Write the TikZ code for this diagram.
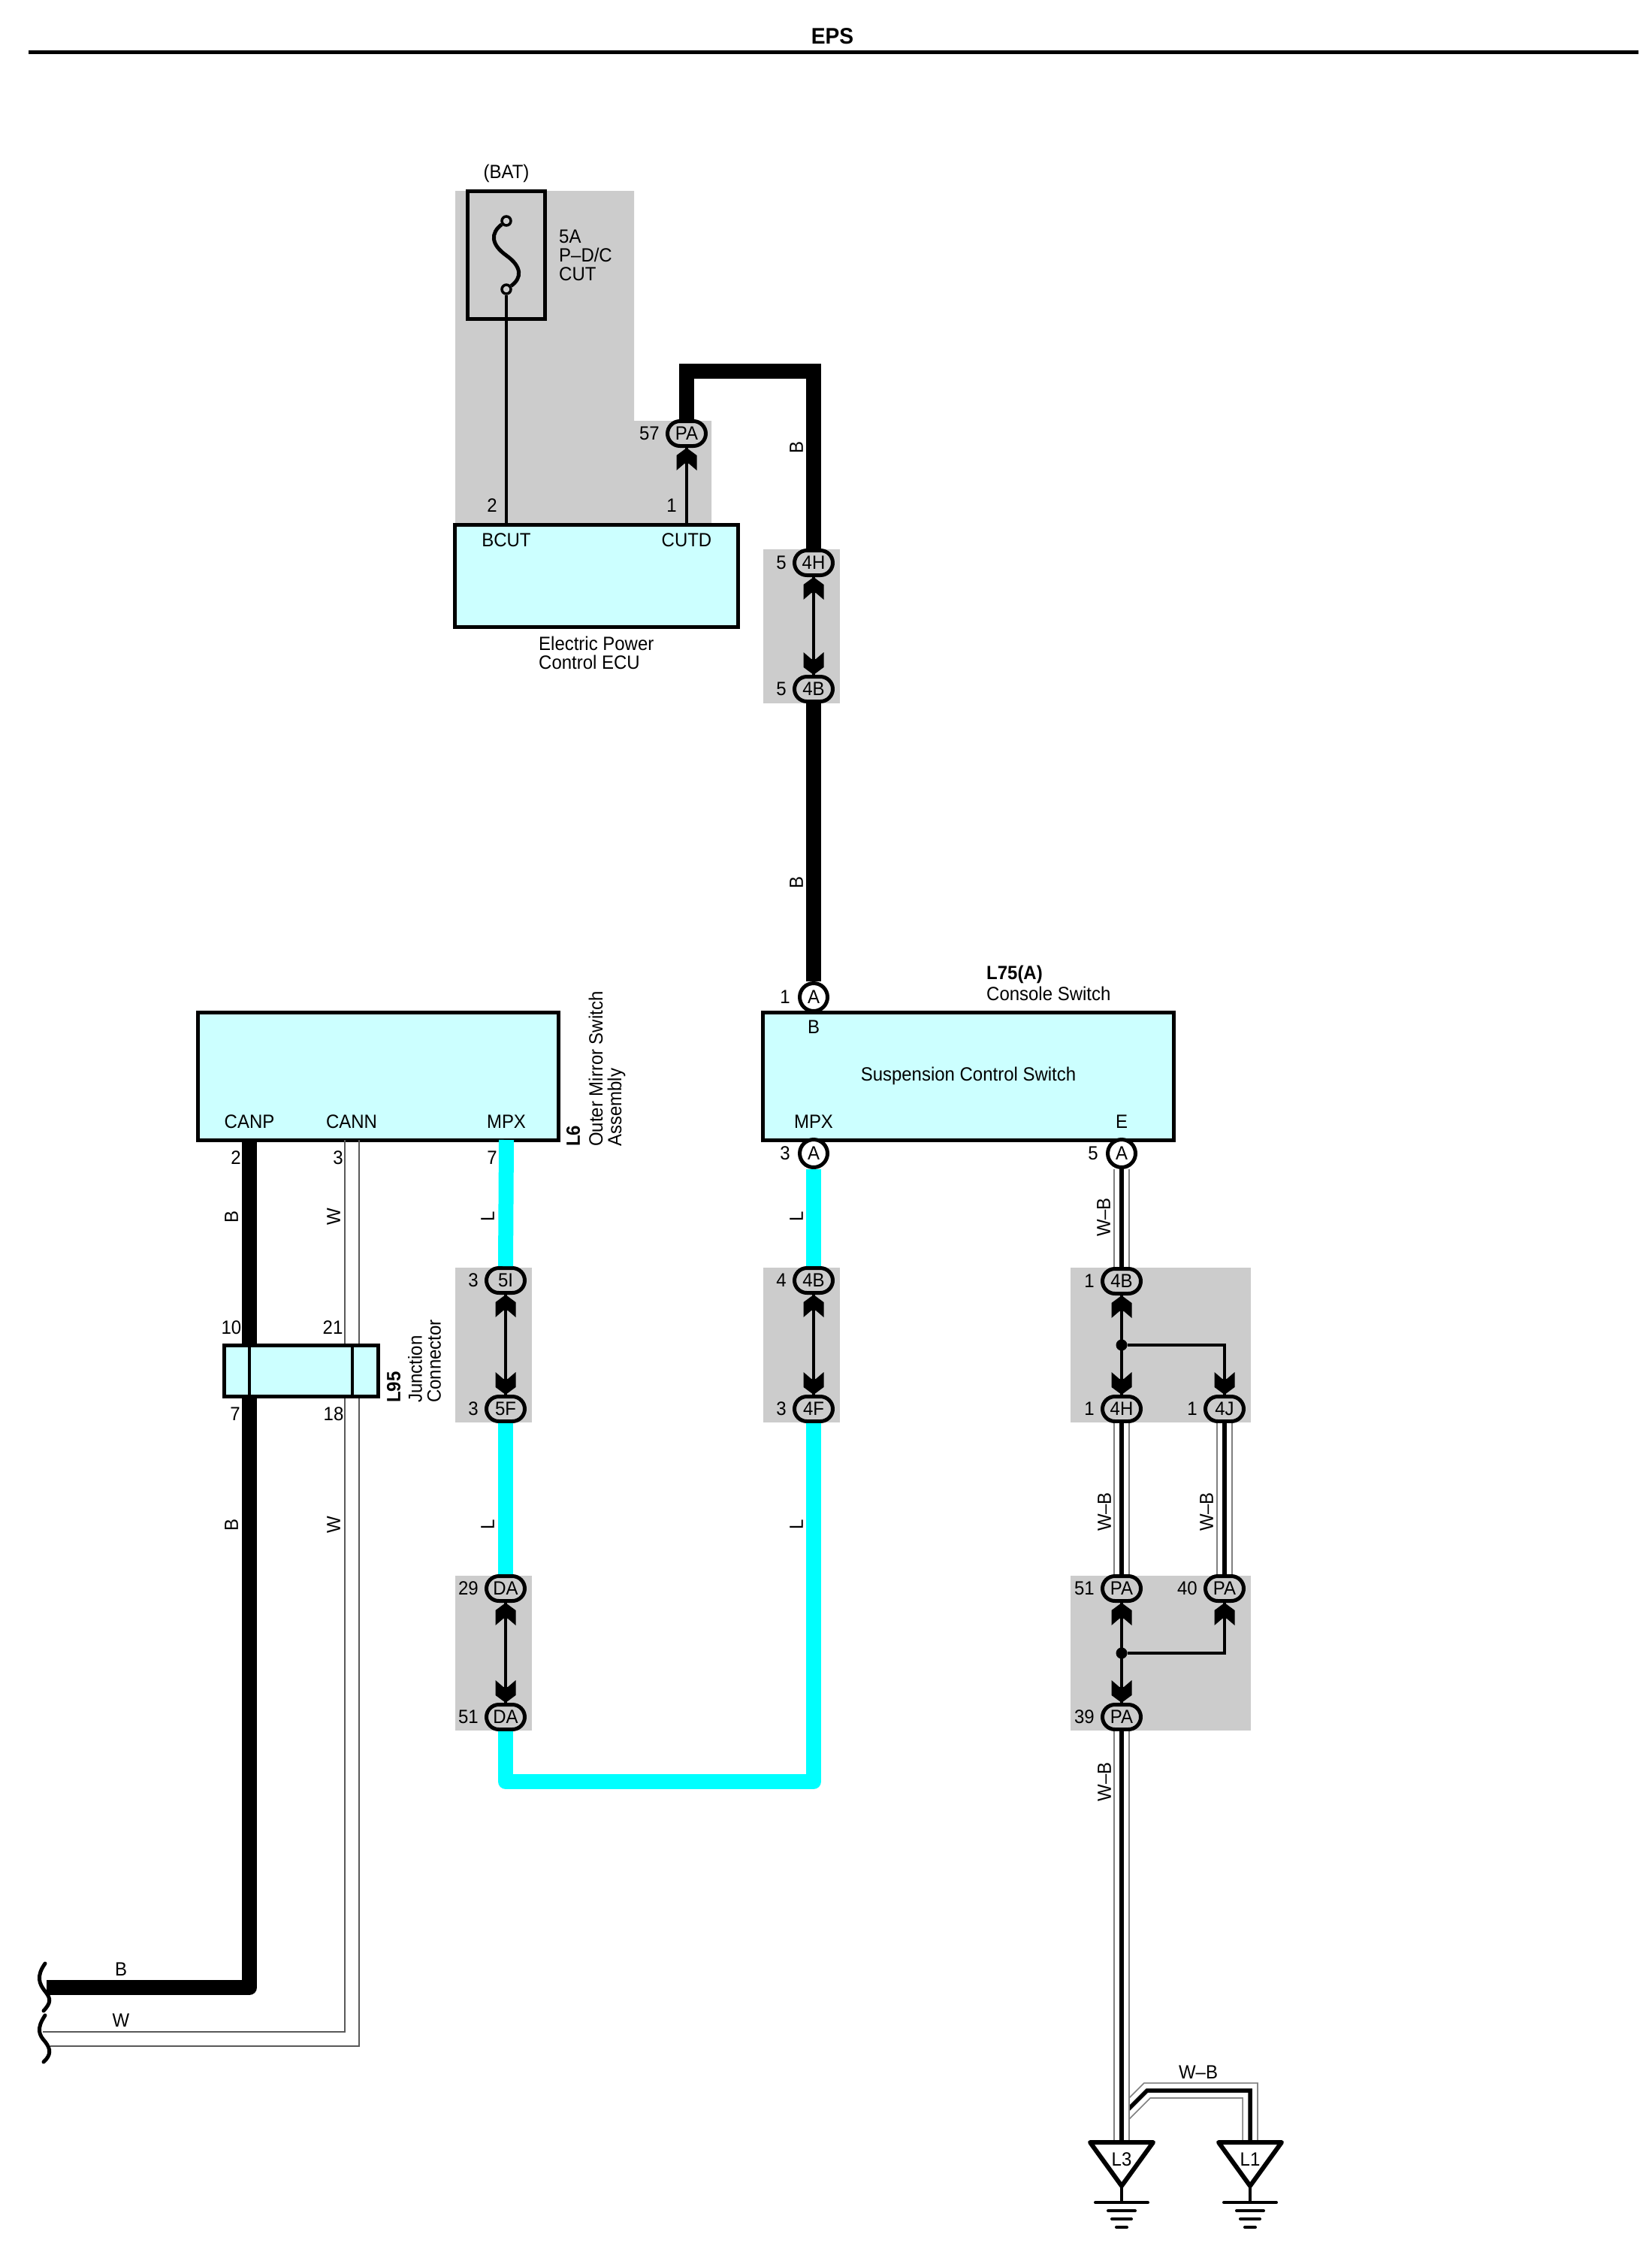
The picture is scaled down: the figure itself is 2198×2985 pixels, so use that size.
\documentclass[tikz,border=0pt]{standalone}
\usepackage{fontspec}
\setmainfont[FakeStretch=0.94]{Liberation Sans}
\usepackage{xcolor}
\usetikzlibrary{positioning}
\definecolor{zonegray}{HTML}{CCCCCC}
\definecolor{ecucyan}{HTML}{CCFFFF}
\definecolor{wirecyan}{HTML}{00FFFF}
\tikzset{
  every node/.style={font=\fontsize{25.5}{25}\selectfont, inner sep=0pt},
  lbl/.style={align=left},
  vlbl/.style={rotate=90, align=left},
  zone/.style={fill=zonegray, draw=none},
  ecubox/.style={draw, line width=5pt, fill=ecucyan, anchor=north west, outer sep=0pt, minimum width=#1},
  conn/.style={draw, line width=5pt, fill=zonegray, rounded corners=16.5pt, minimum width=51pt, minimum height=33pt},
  pinc/.style={draw, line width=5pt, fill=white, circle, minimum size=37pt},
  dotj/.style={fill=black, circle, minimum size=15pt},
  ring/.style={draw, line width=3.5pt, fill=zonegray, circle, minimum size=12pt},
  link/.style={line width=3.5pt},
  wireblk/.style={line width=20pt, line join=round},
  wirecy/.style={line width=20pt, color=wirecyan},
  wirew/.style={draw=black!65, line width=1.5pt},
  wirewb/.style={line width=5.5pt, preaction={draw, black!50, line width=21.5pt}, preaction={draw, white, line width=18pt}},
  gndline/.style={line width=4pt, line cap=round},
  chevup/.pic={\fill (0,0) -- (13.5,10) -- (13.5,30) -- (3,21) -- (-3,21) -- (-13.5,30) -- (-13.5,10) -- cycle;},
  chevdn/.pic={\fill (0,0) -- (13.5,-10) -- (13.5,-30) -- (3,-21) -- (-3,-21) -- (-13.5,-30) -- (-13.5,-10) -- cycle;},
  gndsym/.pic={
    \draw[line width=6pt, line join=round] (-42,0) -- (42,0) -- (0,58) -- cycle;
    \draw[link] (0,58) -- (0,80);
    \draw[gndline] (-35,80) -- (35,80);
    \draw[gndline] (-18,91) -- (18,91);
    \draw[gndline] (-13,102) -- (13,102);
    \draw[gndline] (-7,113) -- (7,113);
  }
}
\begin{document}
\begin{tikzpicture}[x=1pt, y=-1pt]
\useasboundingbox (0,0) rectangle (2198,2985);

% title
\node[font=\fontsize{30}{30}\selectfont\bfseries] (title) at (1108,48) {EPS};
\coordinate (ruleL) at (38,69);
\coordinate (ruleR) at (2181,69);
\draw[line width=5pt] (ruleL) -- (ruleR);

% grey zones
\fill[zone] (606,254) -- (844,254) -- (844,560) -- (947,560) -- (947,696) -- (606,696) -- cycle;
\fill[zone] (1016,731) rectangle (1118,936);
\fill[zone] (606,1687) rectangle (708,1893);
\fill[zone] (1016,1687) rectangle (1118,1893);
\fill[zone] (1425,1687) rectangle (1665,1893);
\fill[zone] (606,2097) rectangle (708,2303);
\fill[zone] (1425,2097) rectangle (1665,2303);

% fuse and power control ECU
\node[draw, line width=5pt, anchor=north west, outer sep=0pt, minimum width=103pt, minimum height=170pt] (fusebox) at (622,254) {};
\node[ring] (fusetop) at (674,294) {};
\node[ring] (fusebot) at (674,385) {};
\draw[line width=5pt] (fusetop) .. controls (653,310) and (653,325) .. (674,340) .. controls (695,355) and (695,370) .. (fusebot);
\node (bat) at (674,231) {(BAT)};
\node[lbl, anchor=west] (fuselbl) at (744,340) {5A\\P–D/C\\CUT};
\node[ecubox=377pt, minimum height=136pt] (ecu) at (605,698) {};
\node (bcut) at (674,719) {BCUT};
\node (cutd) at (914,719) {CUTD};
\node (pin2) at (655,673) {2};
\node (pin1) at (894,673) {1};
\node[anchor=base west] (ecuname) at (717,865) {Electric Power};
\node[anchor=base west] (ecuname2) at (717,890) {Control ECU};
\draw[link] (fusebot) -- (ecu.north -| fusebot);

% B wire down to the switch
\node[conn] (pa57) at (914,577) {PA};
\node[left=8pt of pa57] (n57) {57};
\node[conn] (c4h) at (1083,749) {4H};
\node[left=8pt of c4h] (n5a) {5};
\node[conn] (c4b) at (1083,917) {4B};
\node[left=8pt of c4b] (n5b) {5};
\node[pinc] (pb) at (1083,1327) {A};
\node[left=10pt of pb] (n1b) {1};
\draw[link] (pa57) -- (ecu.north -| pa57);
\pic at (pa57.south) {chevup};
\draw[wireblk, line join=miter] (pa57.north) -- ++(0,-64) -| (c4h.north);
\draw[link] (c4h) -- (c4b);
\pic at (c4h.south) {chevup};
\pic at (c4b.north) {chevdn};
\draw[wireblk] (c4b.south) -- (pb.north);
\node[vlbl] (lb1) at (1060,595) {B};
\node[vlbl] (lb2) at (1060,1174) {B};

% suspension control switch
\node[ecubox=547pt, minimum height=170pt] (susp) at (1015,1347) {};
\node[anchor=base west, font=\fontsize{25.5}{25}\selectfont\bfseries] (l75) at (1313,1303) {L75(A)};
\node[anchor=base west] (consw) at (1313,1331) {Console Switch};
\node (sb) at (1083,1367) {B};
\node[anchor=base] (suspname) at (1289,1438) {Suspension Control Switch};
\node (smpx) at (1083,1493) {MPX};
\node (se) at (1493,1493) {E};
\node[pinc] (p3) at (1083,1535) {A};
\node[left=10pt of p3] (n3) {3};
\node[pinc] (p5) at (1493,1535) {A};
\node[left=10pt of p5] (n5) {5};

% outer mirror switch
\node[ecubox=480pt, minimum height=170pt] (mirror) at (263,1347) {};
\node[vlbl, anchor=west, font=\fontsize{25.5}{25}\selectfont\bfseries] (l6) at (763,1526) {L6};
\node[vlbl, anchor=west] (mirname) at (808,1526) {Outer Mirror Switch\\Assembly};
\node (canp) at (332,1493) {CANP};
\node (cann) at (468,1493) {CANN};
\node (mmpx) at (674,1493) {MPX};
\coordinate (pcanp) at (332,1517);
\coordinate (pcann) at (469,1517);
\coordinate (pmpx) at (674,1517);
\node (n2) at (314,1541) {2};
\node (n3c) at (450,1541) {3};
\node (n7m) at (655,1541) {7};

% junction connector
\coordinate (brkb) at (62,2645);
\coordinate (brkwa) at (57,2704);
\coordinate (brkwb) at (67,2723);
\coordinate (pcanna) at (459,1517);
\coordinate (pcannb) at (478,1517);
\draw[wireblk] (pcanp) -- (brkb -| pcanp) -- (brkb);
\draw[wirew] (pcanna) -- (brkwa -| pcanna) -- (brkwa);
\draw[wirew] (pcannb) -- (brkwb -| pcannb) -- (brkwb);
\node[ecubox=205pt, minimum height=68pt] (jc) at (298,1790) {};
\draw[line width=4pt] (jc.north -| pcanp) -- (jc.south -| pcanp);
\draw[line width=4pt] (jc.north -| pcann) -- (jc.south -| pcann);
\node[vlbl, anchor=west, font=\fontsize{25.5}{25}\selectfont\bfseries] (l95) at (524,1867) {L95};
\node[vlbl, anchor=west] (jcname) at (565,1867) {Junction\\Connector};
\node (n10) at (308,1767) {10};
\node (n21) at (443,1767) {21};
\node (n7j) at (313,1882) {7};
\node (n18) at (444,1882) {18};
\node[vlbl] (lb3) at (308,1619) {B};
\node[vlbl] (lw1) at (444,1619) {W};
\node[vlbl] (lb4) at (308,2029) {B};
\node[vlbl] (lw2) at (444,2029) {W};
\node (lb5) at (161,2621) {B};
\node (lw3) at (161,2689) {W};

% wire breaks
\draw[line width=5pt, line cap=round] (60,2613) .. controls (48,2630) and (52,2640) .. (60,2650) .. controls (68,2660) and (68,2665) .. (58,2676);
\draw[line width=5pt, line cap=round] (60,2682) .. controls (48,2700) and (52,2708) .. (60,2717) .. controls (68,2727) and (68,2735) .. (58,2744);

% L wires
\node[conn] (c5i) at (673,1704) {5I};
\node[left=8pt of c5i] (n3i) {3};
\node[conn] (c5f) at (673,1875) {5F};
\node[left=8pt of c5f] (n3f) {3};
\node[conn] (da29) at (673,2114) {DA};
\node[left=8pt of da29] (n29) {29};
\node[conn] (da51) at (673,2285) {DA};
\node[left=8pt of da51] (n51d) {51};
\node[conn] (c4bm) at (1083,1704) {4B};
\node[left=8pt of c4bm] (n4) {4};
\node[conn] (c4f) at (1083,1875) {4F};
\node[left=8pt of c4f] (n3g) {3};
\draw[wirecy] (pmpx) -- (c5i.north);
\draw[wirecy] (c5f.south) -- (da29.north);
\draw[wirecy, line join=round] (da51.south) |- (1083,2371) -- (c4f.south);
\draw[wirecy] (p3.south) -- (c4bm.north);
\draw[link] (c5i) -- (c5f);
\pic at (c5i.south) {chevup};
\pic at (c5f.north) {chevdn};
\draw[link] (da29) -- (da51);
\pic at (da29.south) {chevup};
\pic at (da51.north) {chevdn};
\draw[link] (c4bm) -- (c4f);
\pic at (c4bm.south) {chevup};
\pic at (c4f.north) {chevdn};
\node[vlbl] (ll1) at (649,1619) {L};
\node[vlbl] (ll2) at (649,2029) {L};
\node[vlbl] (ll3) at (1060,1619) {L};
\node[vlbl] (ll4) at (1060,2029) {L};

% W-B wires and earth points
\node[conn] (c4bw) at (1493,1705) {4B};
\node[left=8pt of c4bw] (n1a) {1};
\node[conn] (c4hw) at (1493,1875) {4H};
\node[left=8pt of c4hw] (n1c) {1};
\node[conn] (c4j) at (1630,1875) {4J};
\node[left=8pt of c4j] (n1d) {1};
\node[conn] (pa51) at (1493,2114) {PA};
\node[left=8pt of pa51] (n51) {51};
\node[conn] (pa40) at (1630,2114) {PA};
\node[left=8pt of pa40] (n40) {40};
\node[conn] (pa39) at (1493,2285) {PA};
\node[left=8pt of pa39] (n39) {39};
\node[dotj] (dot1) at (1493,1790) {};
\node[dotj] (dot2) at (1493,2200) {};
\draw[link] (c4bw) -- (c4hw);
\draw[link] (dot1) -| (c4j.north);
\pic at (c4bw.south) {chevup};
\pic at (c4hw.north) {chevdn};
\pic at (c4j.north) {chevdn};
\draw[link] (pa51) -- (pa39);
\draw[link] (dot2) -| (pa40.south);
\pic at (pa51.south) {chevup};
\pic at (pa40.south) {chevup};
\pic at (pa39.north) {chevdn};
\coordinate (l3top) at (1493,2851);
\coordinate (l1top) at (1664,2851);
\coordinate (l1bend) at (1527,2782);
\coordinate (l1start) at (1493,2816);
\draw[wirewb] (l1start) -- (l1bend) -- (l1bend -| l1top) -- (l1top);
\draw[wirewb] (p5.south) -- (c4bw.north);
\draw[wirewb] (c4hw.south) -- (pa51.north);
\draw[wirewb] (c4j.south) -- (pa40.north);
\draw[wirewb] (pa39.south) -- (l3top);
\pic at (l3top) {gndsym};
\pic at (l1top) {gndsym};
\node (l3) at (1493,2874) {L3};
\node (l1) at (1664,2874) {L1};
\node[vlbl] (lwb1) at (1469,1620) {W–B};
\node[vlbl] (lwb2) at (1470,2012) {W–B};
\node[vlbl] (lwb3) at (1606,2012) {W–B};
\node[vlbl] (lwb4) at (1470,2371) {W–B};
\node (lwb5) at (1595,2758) {W–B};
\end{tikzpicture}
\end{document}
